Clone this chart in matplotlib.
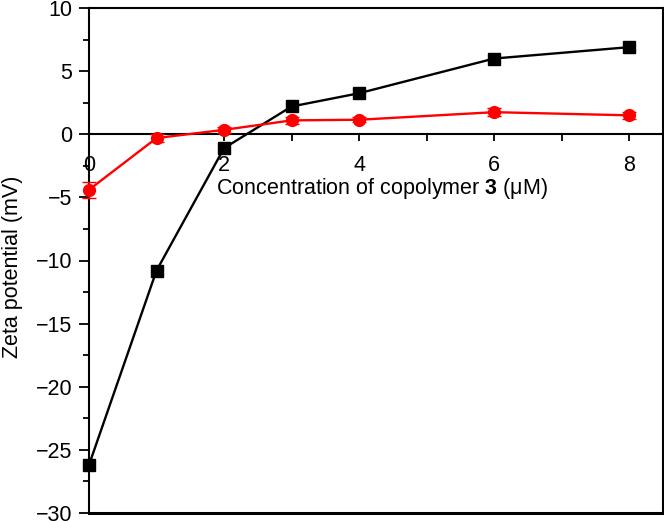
import matplotlib
matplotlib.use("Agg")
import matplotlib.pyplot as plt
from matplotlib.ticker import MultipleLocator

plt.rcParams['font.family'] = ['Liberation Sans', 'DejaVu Sans']
plt.rcParams['mathtext.fontset'] = 'custom'
plt.rcParams['mathtext.rm'] = 'Liberation Sans'
plt.rcParams['mathtext.bf'] = 'Liberation Sans:bold'

# data
conc = [0, 1, 2, 3, 4, 6, 8]
zeta_black = [-26.2, -10.8, -1.1, 2.2, 3.25, 6.0, 6.9]
err_black = [0.35, 0.4, 0.3, 0.25, 0.2, 0.25, 0.3]
zeta_red = [-4.4, -0.3, 0.35, 1.1, 1.15, 1.75, 1.5]
err_red = [0.65, 0.3, 0.25, 0.25, 0.2, 0.3, 0.3]

fs = 15.5

fig = plt.figure(figsize=(6.64, 5.21), dpi=100)
ax = fig.add_axes([0.134, 0.0154, 0.8645, 0.9692])

for y, e, c, m, ms, cap in [(zeta_black, err_black, 'black', 's', 8, 4),
                            (zeta_red, err_red, '#ff0000', 'o', 8.5, 5)]:
    cont = ax.errorbar(conc, y, yerr=e, color=c, marker=m, markersize=ms,
                       lw=1.7, capsize=cap, elinewidth=1, zorder=3)
    for art in [cont[0], *cont[1], *cont[2]]:
        art.set_clip_on(False)

ax.set_xlim(0, 8.5)
ax.set_ylim(-30, 10)

# x axis sits on y = 0, frame drawn separately at the bottom
ax.spines['bottom'].set_position(('data', 0))
ax.axhline(-30, color='black', lw=2.2, clip_on=False)
for s in ['left', 'top', 'right', 'bottom']:
    ax.spines[s].set_linewidth(1.5)

ax.xaxis.set_major_locator(MultipleLocator(2))
ax.xaxis.set_minor_locator(MultipleLocator(1))
ax.yaxis.set_major_locator(MultipleLocator(5))
ax.yaxis.set_minor_locator(MultipleLocator(2.5))
ax.tick_params(which='major', direction='out', width=1.3, labelsize=fs)
ax.tick_params(which='minor', direction='out', width=1.3)
ax.tick_params(axis='x', which='major', length=5, pad=10)
ax.tick_params(axis='x', which='minor', length=5)
ax.tick_params(axis='y', which='major', length=7, pad=5)
ax.tick_params(axis='y', which='minor', length=4)

ax.set_xlabel(r'Concentration of copolymer $\mathbf{3}$ (μM)', fontsize=fs)
ax.xaxis.set_label_coords(0.51, 0.668)
ax.set_ylabel('Zeta potential (mV)', fontsize=fs)
ax.yaxis.set_label_coords(-0.115, 0.487)

fig.savefig('out.png', dpi=100)
